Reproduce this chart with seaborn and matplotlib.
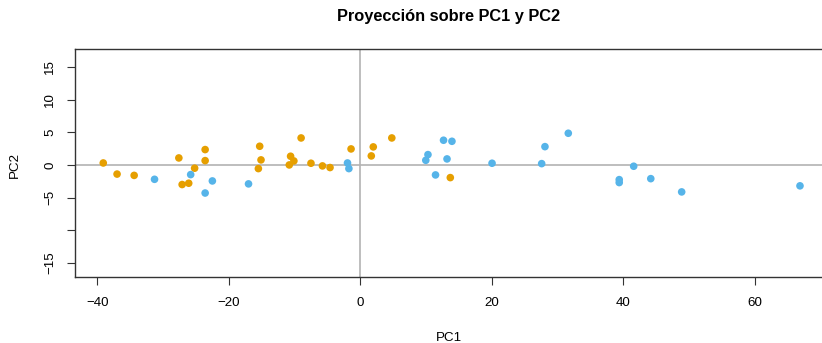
import matplotlib
matplotlib.use("Agg")
import matplotlib.pyplot as plt
import seaborn as sns
import pandas as pd

# Group A (orange)
pc1_a = [-39.1, -37.0, -34.4, -27.6, -27.1, -26.1, -25.2, -23.6, -23.6, -15.3, -15.1, -15.5,
         -10.6, -10.1, -10.8, -9.0, -7.5, -5.75, -4.6, -1.4, 1.68, 1.98, 4.8, 13.7]
pc2_a = [0.3, -1.4, -1.6, 1.07, -3.0, -2.8, -0.5, 2.35, 0.66, 2.86, 0.77, -0.56,
         1.33, 0.61, 0.0, 4.13, 0.26, -0.15, -0.4, 2.45, 1.38, 2.76, 4.13, -1.94]
# Group B (blue)
pc1_b = [-31.3, -25.8, -22.5, -23.6, -17.0, -1.94, -1.73, 9.97, 10.3, 11.45, 12.67, 13.95,
         13.2, 20.05, 27.6, 28.1, 31.65, 39.4, 39.4, 41.6, 44.2, 48.9, 66.9]
pc2_b = [-2.2, -1.48, -2.45, -4.3, -2.9, 0.3, -0.56, 0.71, 1.58, -1.53, 3.78, 3.62,
         0.92, 0.26, 0.2, 2.8, 4.85, -2.25, -2.7, -0.2, -2.1, -4.13, -3.2]

groups = ["A", "B"]
colors = {"A": "#E69F00", "B": "#56B4E9"}
xticks = [-40, -20, 0, 20, 40, 60]
yticks = [-15, -10, -5, 0, 5, 10, 15]
yticklabels = ["\u221215", "", "\u22125", "0", "5", "10", "15"]
xticklabels = ["\u221240", "\u221220", "0", "20", "40", "60"]

df = pd.DataFrame({
    "PC1": pc1_a + pc1_b,
    "PC2": pc2_a + pc2_b,
    "grupo": ["A"] * len(pc1_a) + ["B"] * len(pc1_b),
})

sns.set_style("white")
plt.rcParams["font.family"] = ["Liberation Sans", "DejaVu Sans"]
plt.rcParams["text.color"] = "black"
plt.rcParams["axes.labelcolor"] = "black"
plt.rcParams["xtick.color"] = "black"
plt.rcParams["ytick.color"] = "black"

fig = plt.figure(figsize=(8.22, 3.43), dpi=100)
ax = fig.add_axes([75 / 822, 65.7 / 343, 1.0 - 75 / 822 + 0.002, (277.3 - 49.3) / 343])

ax.axhline(0, color="#b3b3b3", lw=1.2, zorder=1)
ax.axvline(0, color="#b3b3b3", lw=1.2, zorder=1)

sns.scatterplot(data=df, x="PC1", y="PC2", hue="grupo", hue_order=groups,
                palette=colors, s=30, linewidth=0, legend=False, ax=ax, zorder=3)

ax.set_xlim(-43.4, 70.5)
ax.set_ylim(-17.2, 17.7)
ax.set_xticks(xticks)
ax.set_xticklabels(xticklabels, fontsize=9.6)
ax.set_yticks(yticks)
ax.set_yticklabels(yticklabels, fontsize=9.6, rotation=90, va="center")
ax.tick_params(axis="both", direction="out", length=5.5, width=0.8, color="#333333",
               bottom=True, left=True)
ax.tick_params(axis="x", pad=9)
ax.tick_params(axis="y", pad=8)
for sp in ["left", "bottom", "top"]:
    ax.spines[sp].set_color("#333333")
    ax.spines[sp].set_linewidth(1.0)
ax.spines["right"].set_visible(False)

ax.set_xlabel("")
ax.set_ylabel("")
fig.text((75 + 822) / 2 / 822, 1 - 338 / 343, "PC1", ha="center", va="center", fontsize=9.6)
fig.text(15 / 822, 1 - 165 / 343, "PC2", ha="center", va="center", fontsize=9.6, rotation=90)
fig.text((75 + 822) / 2 / 822, 1 - 17 / 343, "Proyección sobre PC1 y PC2",
         ha="center", va="center", fontsize=11.8, fontweight="bold")

fig.savefig("out.png", dpi=100)
